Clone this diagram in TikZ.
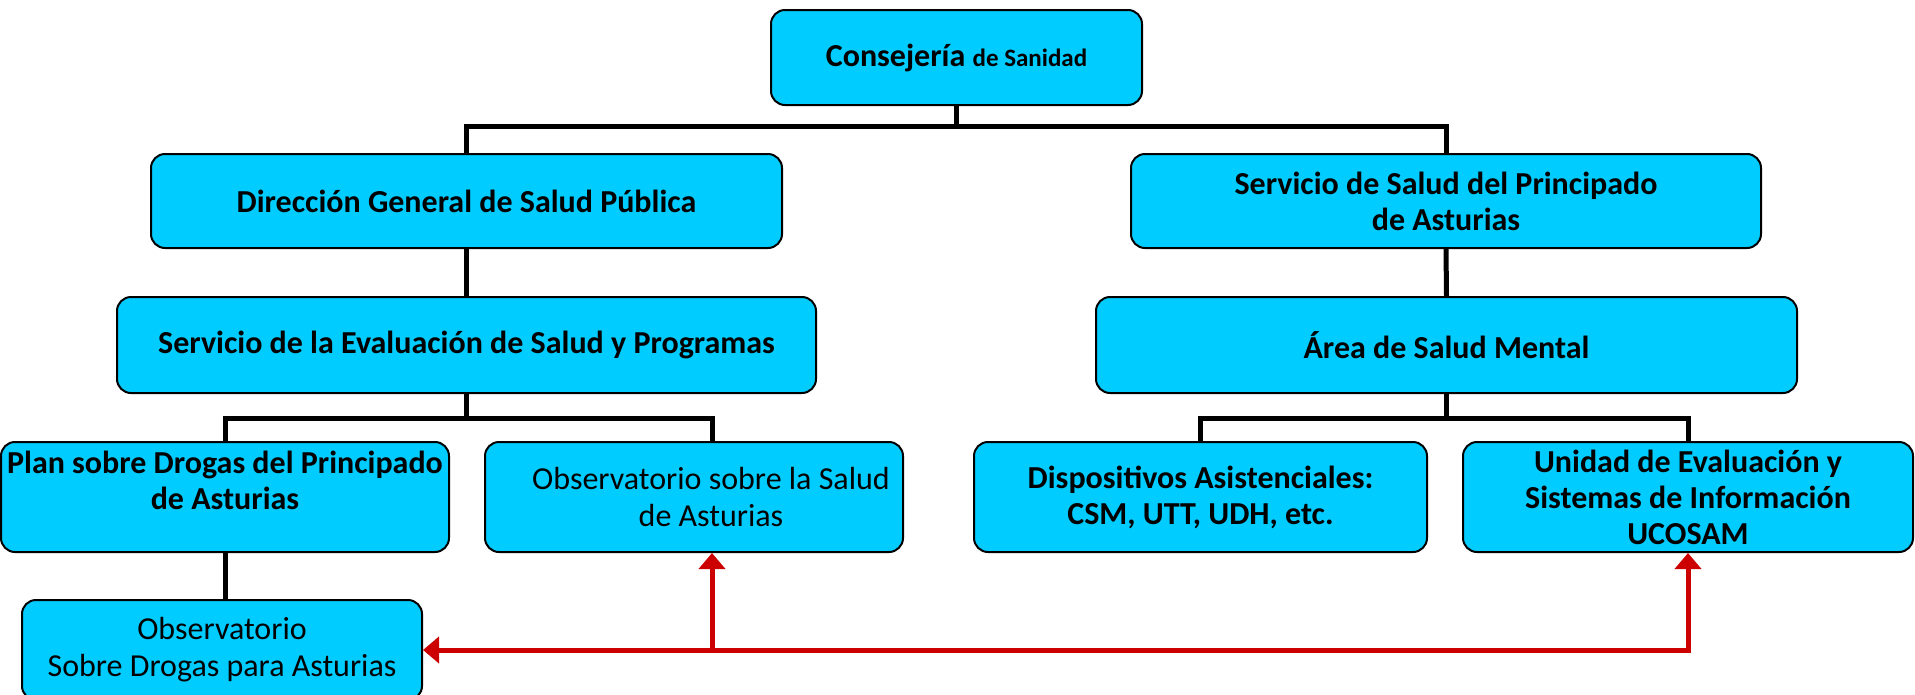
\documentclass[tikz,border=0pt]{standalone}
\usepackage{fontspec}
\setmainfont{Carlito}
\usetikzlibrary{arrows.meta,calc}
\definecolor{boxcyan}{RGB}{0,204,255}
\definecolor{linkred}{RGB}{204,0,0}
\begin{document}
\begin{tikzpicture}[x=1pt,y=-1pt,
  box/.style={draw=black,line width=2pt,rounded corners=14pt,fill=boxcyan,inner sep=0pt},
  btxt/.style={inner sep=0pt,align=center,font=\fontsize{32}{36}\selectfont\bfseries},
  rtxt/.style={inner sep=0pt,align=center,font=\fontsize{32}{37}\selectfont},
  tree/.style={draw=black,line width=5pt},
  redarrow/.style={draw=linkred,line width=5pt,-{Triangle[width=26pt,length=16pt]}}]
\useasboundingbox (0,0) rectangle (1915,694);
% boxes
\node[box,minimum width=371pt,minimum height=95pt] (cons) at (956.5,57.5) {};
\node[box,minimum width=631pt,minimum height=94pt] (dir) at (466.5,201) {};
\node[box,minimum width=630pt,minimum height=94pt] (ssp) at (1446,201) {};
\node[box,minimum width=699pt,minimum height=96pt] (sev) at (466.5,345) {};
\node[box,minimum width=701pt,minimum height=96pt] (area) at (1446.5,345) {};
\node[box,minimum width=448pt,minimum height=110pt] (plan) at (225,497) {};
\node[box,minimum width=418pt,minimum height=110pt] (obss) at (694,497) {};
\node[box,minimum width=453pt,minimum height=110pt] (disp) at (1200.5,497) {};
\node[box,minimum width=450pt,minimum height=110pt] (uni) at (1688,497) {};
\node[box,minimum width=400pt,minimum height=100pt] (obsd) at (222,650) {};
% texts
\node[inner sep=0pt,font=\bfseries] (tcons) at (cons.center) {\fontsize{32}{40}\selectfont Consejería \fontsize{25}{40}\selectfont de Sanidad};
\node[btxt] (tdir) at (dir.center) {Dirección General de Salud Pública};
\node[btxt] (tssp) at (ssp.center) {Servicio de Salud del Principado\\de Asturias};
\node[btxt] (tsev) at (sev.center) {Servicio de la Evaluación de Salud y Programas};
\node[btxt] (tarea) at (area.center) {Área de Salud Mental};
\node[btxt] (tplan) at ($(plan.center)+(0,-17)$) {Plan sobre Drogas del Principado\\de Asturias};
\node[rtxt] (tobss) at ($(obss.center)+(17,0)$) {Observatorio sobre la Salud\\de Asturias};
\node[btxt] (tdisp) at (disp.center) {Dispositivos Asistenciales:\\CSM, UTT, UDH, etc.};
\node[btxt] (tuni) at (uni.center) {Unidad de Evaluación y\\Sistemas de Información\\UCOSAM};
\node[rtxt] (tobsd) at (obsd.center) {Observatorio\\Sobre Drogas para Asturias};
% tree connectors
\coordinate (top) at (cons.south |- 0,126);
\draw[tree] (cons.south) -- (top);
\draw[tree] (dir.north) |- (top) -| (ssp.north);
\draw[tree] (dir.south) -- (sev.north);
\draw[tree] (ssp.south) -- (area.north);
\coordinate (leftbus) at (sev.south |- 0,418);
\coordinate (obssin) at ($(obss.north)+(18,0)$);
\draw[tree] (sev.south) -- (leftbus);
\draw[tree] (plan.north) |- (leftbus) -| (obssin);
\coordinate (rightbus) at (area.south |- 0,418);
\draw[tree] (area.south) -- (rightbus);
\draw[tree] (disp.north) |- (rightbus) -| (uni.north);
\draw[tree] (plan.south) -- (plan.south |- obsd.north);
% red links
\coordinate (redM) at (obssin |- obsd.east);
\coordinate (obssout) at (obssin |- obss.south);
\draw[redarrow] (redM) -| (uni.south);
\draw[redarrow] (redM) -- (obssout);
\draw[redarrow] (redM) -- (obsd.east);
\end{tikzpicture}
\end{document}
